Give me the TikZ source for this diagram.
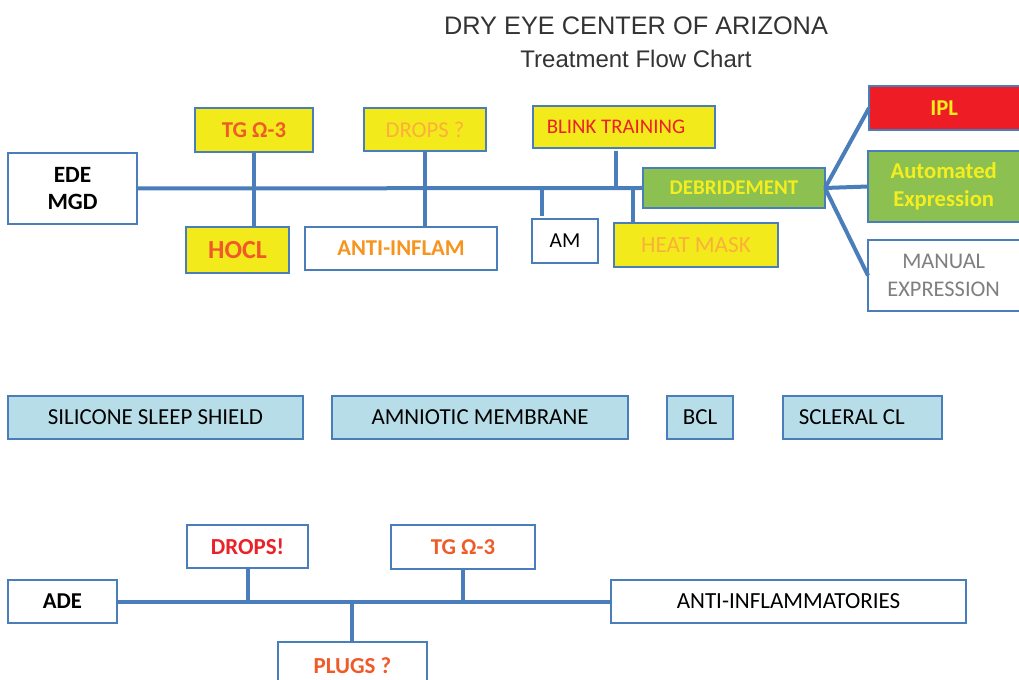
\documentclass[tikz,border=0pt]{standalone}
\usepackage{fontspec}
\setmainfont{Carlito}
\newfontfamily\titlefont{Liberation Sans}
\definecolor{bblue}{HTML}{4A7EBB}
\definecolor{lineblue}{HTML}{4A7EBB}
\definecolor{byellow}{HTML}{F3EA1C}
\definecolor{bgreen}{HTML}{8CC152}
\definecolor{bred}{HTML}{EE1C25}
\definecolor{lblue}{HTML}{B7DEE8}
\definecolor{tyellow}{HTML}{F5EE1E}
\definecolor{torred}{HTML}{F05A28}
\definecolor{torange}{HTML}{F7941D}
\definecolor{tlorange}{HTML}{FBB03B}
\definecolor{tred}{HTML}{EC2027}
\definecolor{tgrey}{HTML}{7F7F7F}
\definecolor{ttitle}{HTML}{333333}
\newcommand\bx[7]{\node[#6, minimum width={(#4-#2)*0.75pt}, minimum height={(#5-#3)*0.75pt}] (#1) at ({(#2+#4)/2},{(#3+#5)/2}) {#7};}
\tikzset{
  box/.style={draw=bblue, line width=1.1pt, inner sep=0pt, outer sep=0pt, align=center, fill=white},
  ybox/.style={box, fill=byellow},
  gbox/.style={box, fill=bgreen},
  rbox/.style={box, fill=bred},
  lbbox/.style={box, fill=lblue, font=\fontsize{17.2}{20}\selectfont},
  conn/.style={draw=lineblue, line width=3pt},
}
\begin{document}
\begin{tikzpicture}[x=0.75pt,y=-0.75pt]
\useasboundingbox (0,0) rectangle (1019,680);
% title
\node[font=\titlefont\fontsize{19}{22}\selectfont, text=ttitle] (title) at (636,26) {DRY EYE CENTER OF ARIZONA};
\node[font=\titlefont\fontsize{18}{21}\selectfont, text=ttitle] (subtitle) at (636,59) {Treatment Flow Chart};
% top row boxes
\bx{ede}{8}{153}{137}{224}{box, font=\bfseries\fontsize{17.5}{20.5}\selectfont}{EDE\\MGD}
\bx{tgA}{195}{108}{313}{152}{ybox, font=\bfseries\fontsize{17}{20}\selectfont, text=torred}{TG Ω-3}
\bx{dropsq}{364}{108}{486}{151}{ybox, font=\fontsize{17}{20}\selectfont, text=tlorange}{DROPS ?}
\bx{blink}{533}{106}{715}{148}{ybox, font=\fontsize{15.6}{18}\selectfont, text=tred}{\hspace*{-12pt}BLINK TRAINING}
\bx{hocl}{186}{227}{289}{273}{ybox, font=\bfseries\fontsize{19.5}{22}\selectfont, text=torred}{HOCL}
\bx{antiA}{305}{227}{497}{270}{box, font=\bfseries\fontsize{17}{20}\selectfont, text=torange}{ANTI-INFLAM}
\bx{am}{532}{219}{598}{263}{box, font=\fontsize{16}{19}\selectfont}{AM}
\bx{heat}{614}{223}{778}{267}{ybox, font=\fontsize{17.4}{20}\selectfont, text=tlorange}{HEAT MASK}
\bx{deb}{643}{168}{825}{208}{gbox, font=\bfseries\fontsize{15.7}{18}\selectfont, text=tyellow}{\raisebox{-1.5pt}{DEBRIDEMENT}}
\bx{ipl}{869}{86}{1030}{130}{rbox, font=\bfseries\fontsize{17}{20}\selectfont, text=tyellow}{\hspace*{-8pt}IPL}
\bx{auto}{868}{151}{1030}{222}{gbox, font=\bfseries\fontsize{17}{21}\selectfont, text=tyellow}{Automated\hspace*{8pt}\\Expression\hspace*{8pt}}
\bx{manual}{868}{240}{1030}{311}{box, font=\fontsize{16.8}{21}\selectfont, text=tgrey}{MANUAL\hspace*{8pt}\\EXPRESSION\hspace*{8pt}}
% top connectors
\coordinate (kAM) at (542,189);
\coordinate (kBL) at (616,189);
\coordinate (kHM) at (633,189);
\draw[conn] (ede.east) -- (deb.west);
\draw[conn] (tgA.south) -- (hocl.north -| tgA.south);
\draw[conn] (dropsq.south) -- (antiA.north -| dropsq.south);
\draw[conn] (kAM) -- ([yshift=2pt]am.north -| kAM);
\draw[conn] (blink.south -| kBL) ++(0,3) -- (kBL);
\draw[conn] (kHM) -- (heat.north -| kHM);
\draw[conn] (deb.east) -- (ipl.west);
\draw[conn] (deb.east) -- (auto.west);
\draw[conn] (deb.east) -- (manual.west);
% middle row
\bx{sss}{8}{396}{303}{439}{lbbox}{SILICONE SLEEP SHIELD}
\bx{amn}{332}{396}{628}{439}{lbbox}{AMNIOTIC MEMBRANE}
\bx{bcl}{667}{396}{733}{439}{lbbox}{BCL}
\bx{scl}{783}{396}{942}{439}{lbbox}{SCLERAL CL\hspace*{16pt}}
% bottom
\bx{ade}{8}{580}{117}{623}{box, font=\bfseries\fontsize{17}{20}\selectfont}{ADE}
\bx{dropsx}{187}{525}{308}{568}{box, font=\bfseries\fontsize{17.2}{20}\selectfont, text=tred}{DROPS!}
\bx{tgB}{391}{525}{535}{569}{box, font=\bfseries\fontsize{17}{20}\selectfont, text=torred}{TG Ω-3}
\bx{antiB}{611}{580}{966}{623}{box, font=\fontsize{17.3}{20}\selectfont}{ANTI-INFLAMMATORIES}
\bx{plugs}{278}{642}{427}{700}{box, font=\bfseries\fontsize{17.2}{20}\selectfont, text=torred}{\raisebox{8pt}{PLUGS ?}}
\coordinate (kPL) at (352,601);
\draw[conn] (ade.east) -- (antiB.west);
\draw[conn] (dropsx.south) -- (dropsx.south |- ade.east);
\draw[conn] (tgB.south) -- (tgB.south |- ade.east);
\draw[conn] (kPL) -- (plugs.north -| kPL);
\end{tikzpicture}
\end{document}
